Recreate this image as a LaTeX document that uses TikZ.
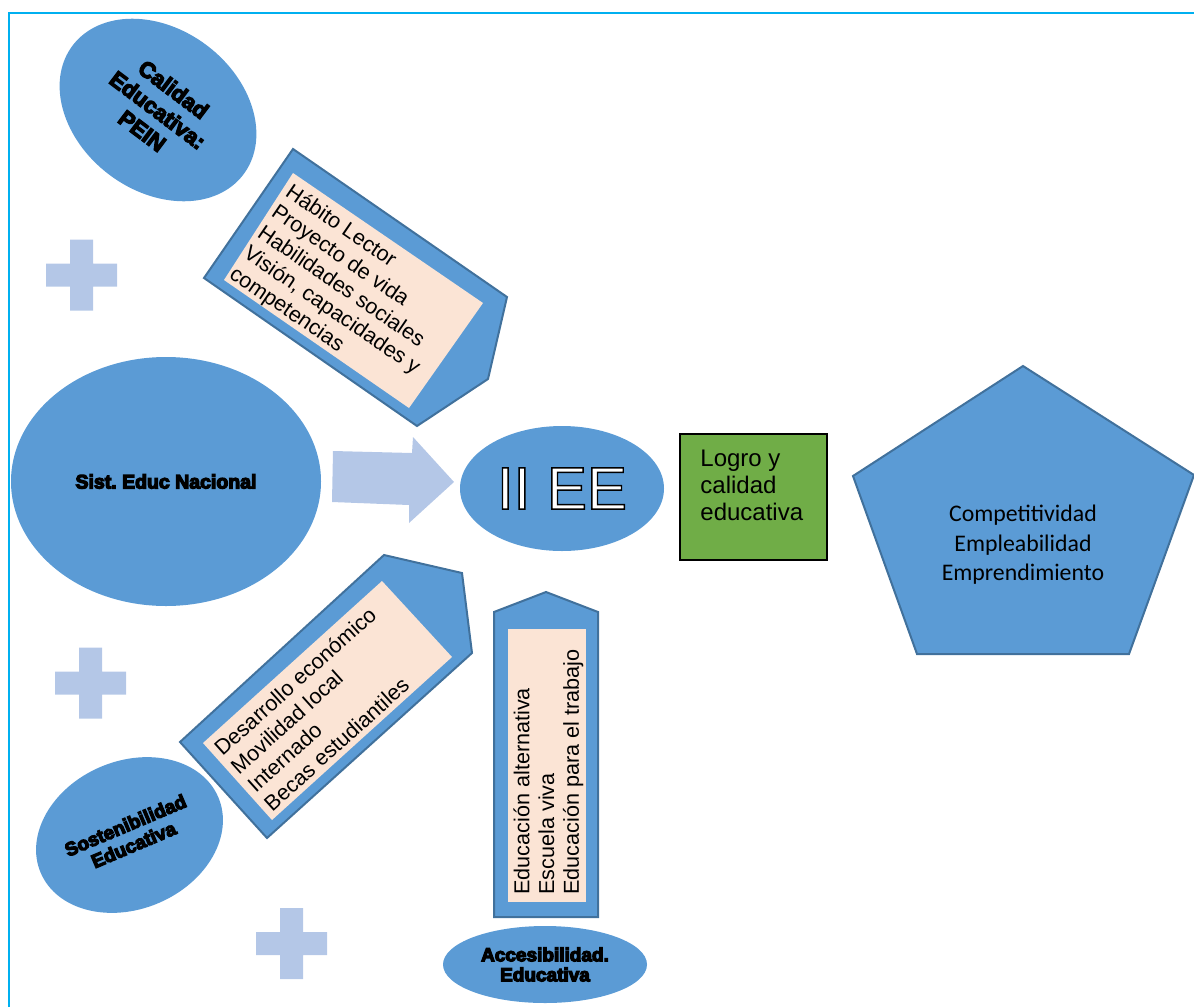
\documentclass[tikz,border=0pt]{standalone}
\usepackage{fontspec}
\setmainfont{Liberation Sans}
\newfontfamily\calibri{Carlito}
\usepackage{xcolor}
\usepackage{tikz}
\usetikzlibrary{shapes.geometric, arrows}
\usetikzlibrary{calc}
\usetikzlibrary{shapes, positioning}
\definecolor{azul}{HTML}{5B9BD5}
\definecolor{azulborde}{HTML}{41719C}
\definecolor{celeste}{HTML}{B4C7E7}
\definecolor{durazno}{HTML}{FBE4D5}
\definecolor{verde}{HTML}{70AD47}
\definecolor{marco}{HTML}{00B0F0}
\tikzstyle{burbuja} = [ellipse, fill=azul, inner sep=0pt, align=center]
\tikzstyle{flecha} = [fill=azul, draw=azulborde, line width=1pt, line join=miter]
\tikzstyle{lista} = [fill=durazno]
\tikzstyle{cruz} = [fill=celeste]
\tikzstyle{texto} = [align=left, inner xsep=2.5pt, inner ysep=3.5pt, anchor=north west, font=\fontsize{10.8}{12.4}\selectfont]
\newcommand{\hueco}[1]{\special{pdf:literal direct 2 Tr 0.7 w 0 G 1 g}#1\special{pdf:literal direct 0 Tr 0.4 w 0 G 0 g}}
\newcommand{\grueso}[1]{\special{pdf:literal direct 2 Tr 0.6 w 0 G 0 g}#1\special{pdf:literal direct 0 Tr 0.4 w 0 G 0 g}}
\frenchspacing

\begin{document}
\begin{tikzpicture}[x=0.5pt, y=-0.5pt]
        \useasboundingbox (0,0) rectangle (1194,1007);
        \draw [marco, line width=1pt] (9,1007) -- (9,13) -- (1194,13);

        \foreach \x/\y in {81.5/275, 90.5/683, 291.5/943.5}
            \fill [cruz] (\x-11.5,\y-35.5) rectangle (\x+11.5,\y+35.5) (\x-35.5,\y-11.5) rectangle (\x+35.5,\y+11.5);

        \node (calidad) [burbuja, minimum width=107pt, minimum height=81pt, rotate=-37, font=\bfseries\fontsize{11.2}{13}\selectfont] at (158,110) {\grueso{Calidad\\Educativa:\\PEIN}};
        \node (sist) [burbuja, minimum width=155pt, minimum height=124.5pt, font=\bfseries\fontsize{9.75}{11}\selectfont] at (166,481.5) {\grueso{Sist. Educ Nacional}};
        \node (sosten) [burbuja, minimum width=96.5pt, minimum height=74pt, rotate=23, font=\bfseries\fontsize{9.5}{10.5}\selectfont] at (129.5,835) {\grueso{Sostenibilidad\\Educativa}};
        \node (acceso) [burbuja, minimum width=102pt, minimum height=38.5pt, font=\bfseries\fontsize{9.5}{10}\selectfont] at (545,964.5) {\grueso{Accesibilidad.\\Educativa}};
        \node (iiee) [burbuja, minimum width=102pt, minimum height=62.5pt, font=\fontsize{30}{30}\selectfont] at (562,488.5) {\hueco{II EE}};

        \fill [cruz] (333,451) -- (412,453) -- (413,437) -- (454,482) -- (409,523) -- (409,505) -- (332,502) -- cycle;

        \draw [flecha] (293,149) -- (507,297) -- (488,379) -- (417,426) -- (204,278) -- cycle;
        \fill [lista] (293,173) -- (483,303) -- (409,408) -- (224,280) -- cycle;
        \node (habitos) [texto, rotate=-34.4] at (293,173) {H\'abito Lector\\Proyecto de vida\\Habilidades sociales\\Visi\'on, capacidades y\\competencias};

        \draw [flecha] (180,742) -- (384,555) -- (462,573) -- (472,653) -- (267,838) -- cycle;
        \fill [lista] (203,743) -- (382,581) -- (452,657) -- (272,820) -- cycle;
        \node (desarrollo) [texto, rotate=42] at (203,743) {Desarrollo econ\'omico\\Movilidad local\\Internado\\Becas estudiantiles};

        \draw [flecha] (494,612) -- (546,592) -- (598,612) -- (598,917) -- (494,917) -- cycle;
        \fill [lista] (508,629) rectangle (586,902);
        \node (educacion) [texto, rotate=90, inner xsep=3.5pt, inner ysep=2.5pt] at (508,902) {Educaci\'on alternativa\\Escuela viva\\Educaci\'on para el trabajo};

        \node (logro) [rectangle, draw=black, fill=verde, line width=0.75pt, minimum width=73.5pt, minimum height=63pt, inner sep=0pt, anchor=north west] at (679,433) {};
        \node (logrotexto) [below right=8.5pt and 10.5pt of logro.north west, align=left, inner sep=0pt, font=\fontsize{12}{13.3}\selectfont] {Logro y\\calidad\\educativa};

        \draw [flecha] (1023,366) -- (1194,475) -- (1129,654) -- (917,654) -- (853,476) -- cycle;
        \node (metas) [align=center, font=\calibri\fontsize{11.9}{14.75}\selectfont] at (1023,545) {Competitividad\\Empleabilidad\\Emprendimiento};
    \end{tikzpicture}
\end{document}
